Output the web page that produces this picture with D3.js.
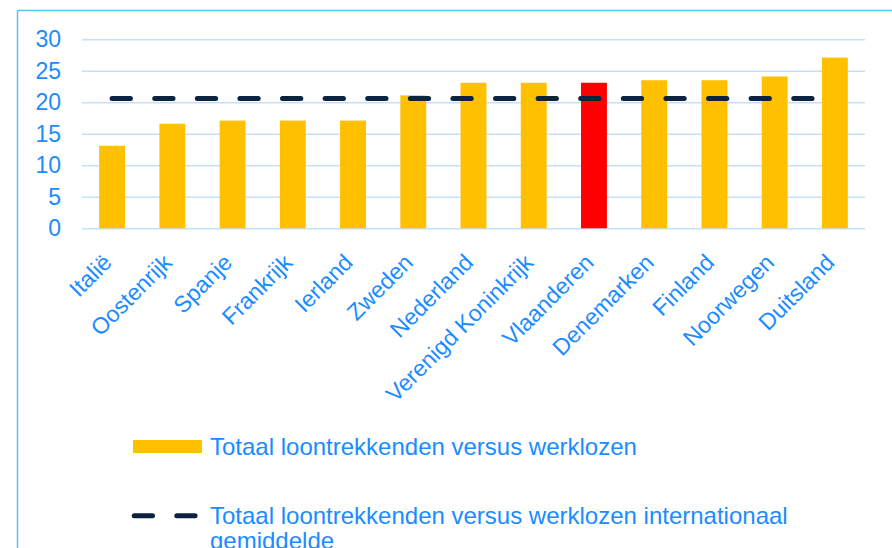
<!DOCTYPE html>
<html>
<head>
<meta charset="utf-8">
<script src="https://cdn.jsdelivr.net/npm/d3@7"></script>
<style>
  body { margin: 0; background: #fff; }
  svg text { font-family: "Liberation Sans", Arial, sans-serif; }
</style>
</head>
<body>
<div id="chart"></div>
<script>
// data
var categories = ["Italië", "Oostenrijk", "Spanje", "Frankrijk", "Ierland", "Zweden", "Nederland",
  "Verenigd Koninkrijk", "Vlaanderen", "Denemarken", "Finland", "Noorwegen", "Duitsland"];
var values = [13.1, 16.6, 17.1, 17.1, 17.1, 21.1, 23.1, 23.1, 23.1, 23.5, 23.5, 24.1, 27.1];
var averageValues = [20.6, 20.6, 20.6, 20.6, 20.6, 20.6, 20.6, 20.6, 20.6, 20.6, 20.6, 20.6, 20.6];
var highlight = "Vlaanderen";
var yTicks = [0, 5, 10, 15, 20, 25, 30];
var legendLabels = ["Totaal loontrekkenden versus werklozen",
  "Totaal loontrekkenden versus werklozen internationaal", "gemiddelde"];

var width = 892, height = 548;
var textColor = "#1a8cff";

var svg = d3.select("#chart").append("svg")
  .attr("width", width)
  .attr("height", height);

// chart frame
svg.append("rect")
  .attr("x", 17.5).attr("y", 10.5)
  .attr("width", 900).attr("height", 600)
  .attr("fill", "none")
  .attr("stroke", "#5cc3f0")
  .attr("stroke-width", 1.5);

var plotLeft = 82, plotRight = 865, plotTop = 39.3, plotBottom = 228.3;

var x = d3.scaleBand()
  .domain(categories)
  .range([plotLeft, plotRight])
  .paddingInner(0.57)
  .paddingOuter(0.285);

var y = d3.scaleLinear()
  .domain([0, 30])
  .range([plotBottom, plotTop]);

var yAxis = d3.axisLeft(y)
  .tickValues(yTicks)
  .tickSizeInner(-(plotRight - plotLeft))
  .tickSizeOuter(0)
  .tickPadding(21);

var gy = svg.append("g")
  .attr("transform", "translate(" + plotLeft + ",0)")
  .call(yAxis);
gy.select(".domain").remove();
gy.selectAll("line").attr("stroke", "#c6e1f7").attr("stroke-width", 1.6);
gy.selectAll("text")
  .attr("fill", textColor)
  .style("font-size", "23px");

// bars
svg.append("g").selectAll("rect")
  .data(values)
  .enter().append("rect")
  .attr("x", function(d, i) { return x(categories[i]); })
  .attr("y", function(d) { return y(d); })
  .attr("width", x.bandwidth())
  .attr("height", function(d) { return y(0) - y(d); })
  .attr("fill", function(d, i) { return categories[i] === highlight ? "#ff0000" : "#ffc000"; });

// average line
var line = d3.line()
  .x(function(d, i) { return x(categories[i]) + x.bandwidth() / 2; })
  .y(function(d) { return y(d); });

svg.append("path")
  .datum(averageValues)
  .attr("d", line)
  .attr("fill", "none")
  .attr("stroke", "#0c2340")
  .attr("stroke-width", 5)
  .attr("stroke-linecap", "round")
  .attr("stroke-dasharray", "18.3 24.3");

// category labels, rotated
svg.append("g").selectAll("text")
  .data(categories)
  .enter().append("text")
  .attr("transform", function(d) {
    return "translate(" + (x(d) + x.bandwidth() / 2 + 1) + ",264) rotate(-45)";
  })
  .attr("text-anchor", "end")
  .attr("fill", textColor)
  .style("font-size", "23px")
  .text(function(d) { return d; });

// legend
var legend = svg.append("g");
legend.append("rect")
  .attr("x", 133).attr("y", 440)
  .attr("width", 69).attr("height", 13)
  .attr("fill", "#ffc000");
legend.append("text")
  .attr("x", 210).attr("y", 455)
  .attr("fill", textColor)
  .style("font-size", "24px")
  .text(legendLabels[0]);

legend.append("line")
  .attr("x1", 134.2).attr("x2", 195.2)
  .attr("y1", 515.7).attr("y2", 515.7)
  .attr("stroke", "#0c2340")
  .attr("stroke-width", 5)
  .attr("stroke-linecap", "round")
  .attr("stroke-dasharray", "18.3 24.3");
legend.append("text")
  .attr("x", 210).attr("y", 524)
  .attr("fill", textColor)
  .style("font-size", "24px")
  .text(legendLabels[1]);
legend.append("text")
  .attr("x", 210).attr("y", 549)
  .attr("fill", textColor)
  .style("font-size", "24px")
  .text(legendLabels[2]);
</script>
</body>
</html>
